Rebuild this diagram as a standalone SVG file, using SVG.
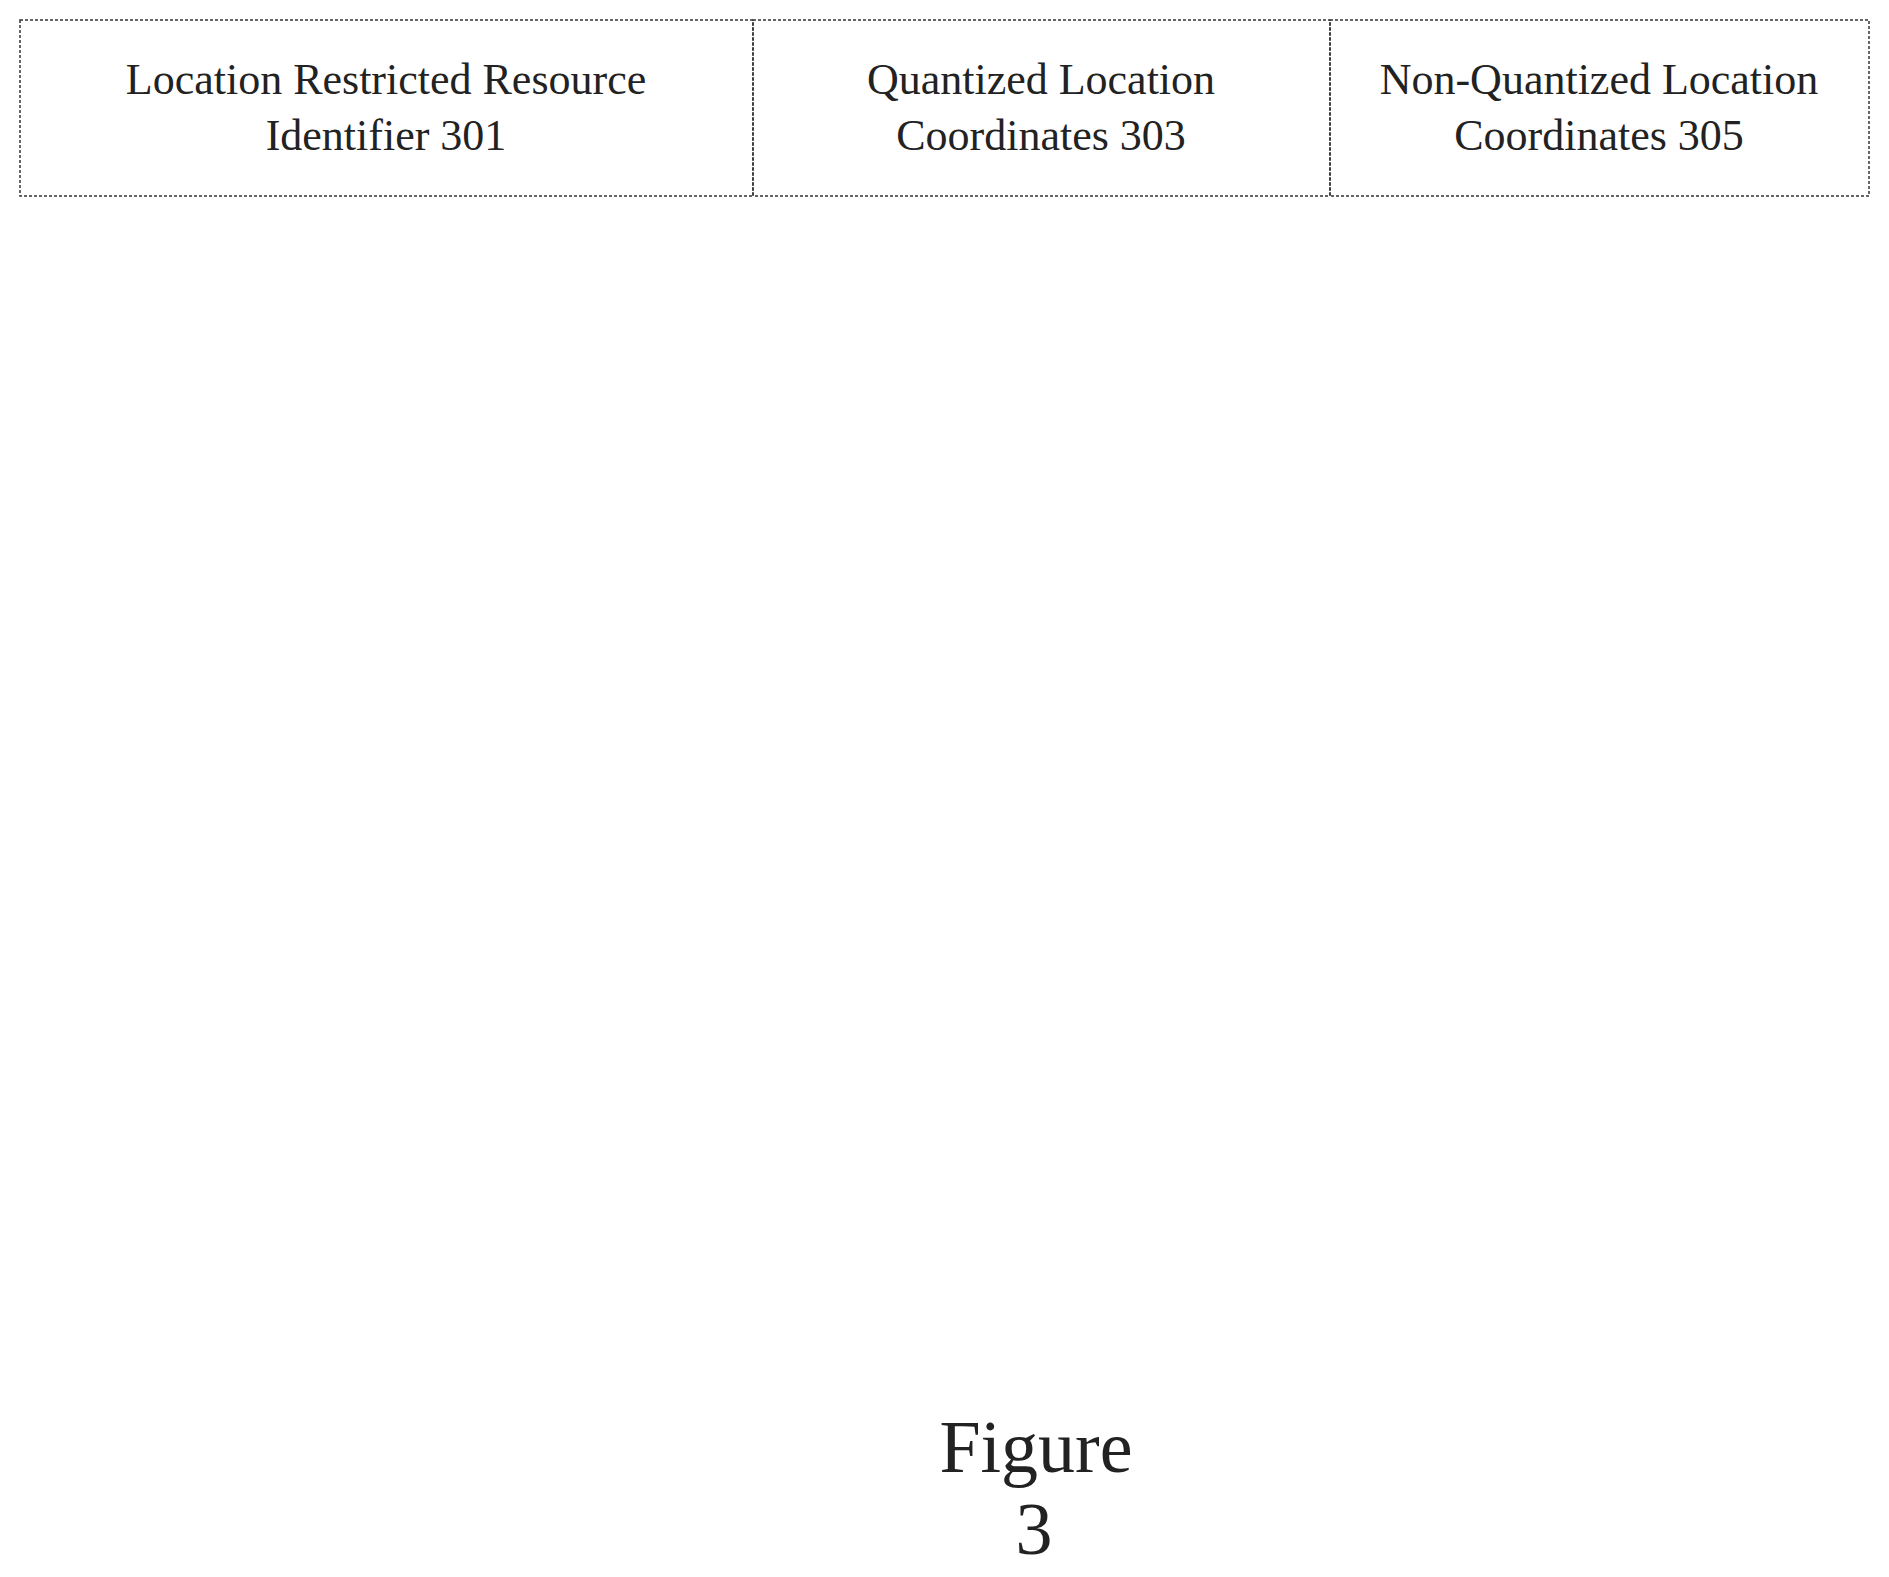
<svg xmlns="http://www.w3.org/2000/svg" width="1889" height="1577" viewBox="0 0 1889 1577">
<style>
.b{fill:none;stroke:#333;stroke-width:1.5;stroke-dasharray:3 2}
.t{font-family:"Liberation Serif",serif;font-size:44px;fill:#222;text-anchor:middle}
.f{font-family:"Liberation Serif",serif;font-size:74px;fill:#222;text-anchor:middle}
</style>
<rect width="1889" height="1577" fill="#fff"/>
<g id="cell301"><rect class="b" x="20" y="20" width="733" height="176"/>
<text class="t" x="386" y="94">Location Restricted Resource</text><text class="t" x="386" y="150">Identifier 301</text></g>
<g id="cell303"><rect class="b" x="753" y="20" width="577" height="176"/>
<text class="t" x="1041" y="94">Quantized Location</text><text class="t" x="1041" y="150">Coordinates 303</text></g>
<g id="cell305"><rect class="b" x="1330" y="20" width="539" height="176"/>
<text class="t" x="1599" y="94">Non-Quantized Location</text><text class="t" x="1599" y="150">Coordinates 305</text></g>
<g id="connectors"></g>
<g id="caption"><text class="f" x="1036" y="1472">Figure</text><text class="f" x="1034" y="1554">3</text></g>
</svg>
